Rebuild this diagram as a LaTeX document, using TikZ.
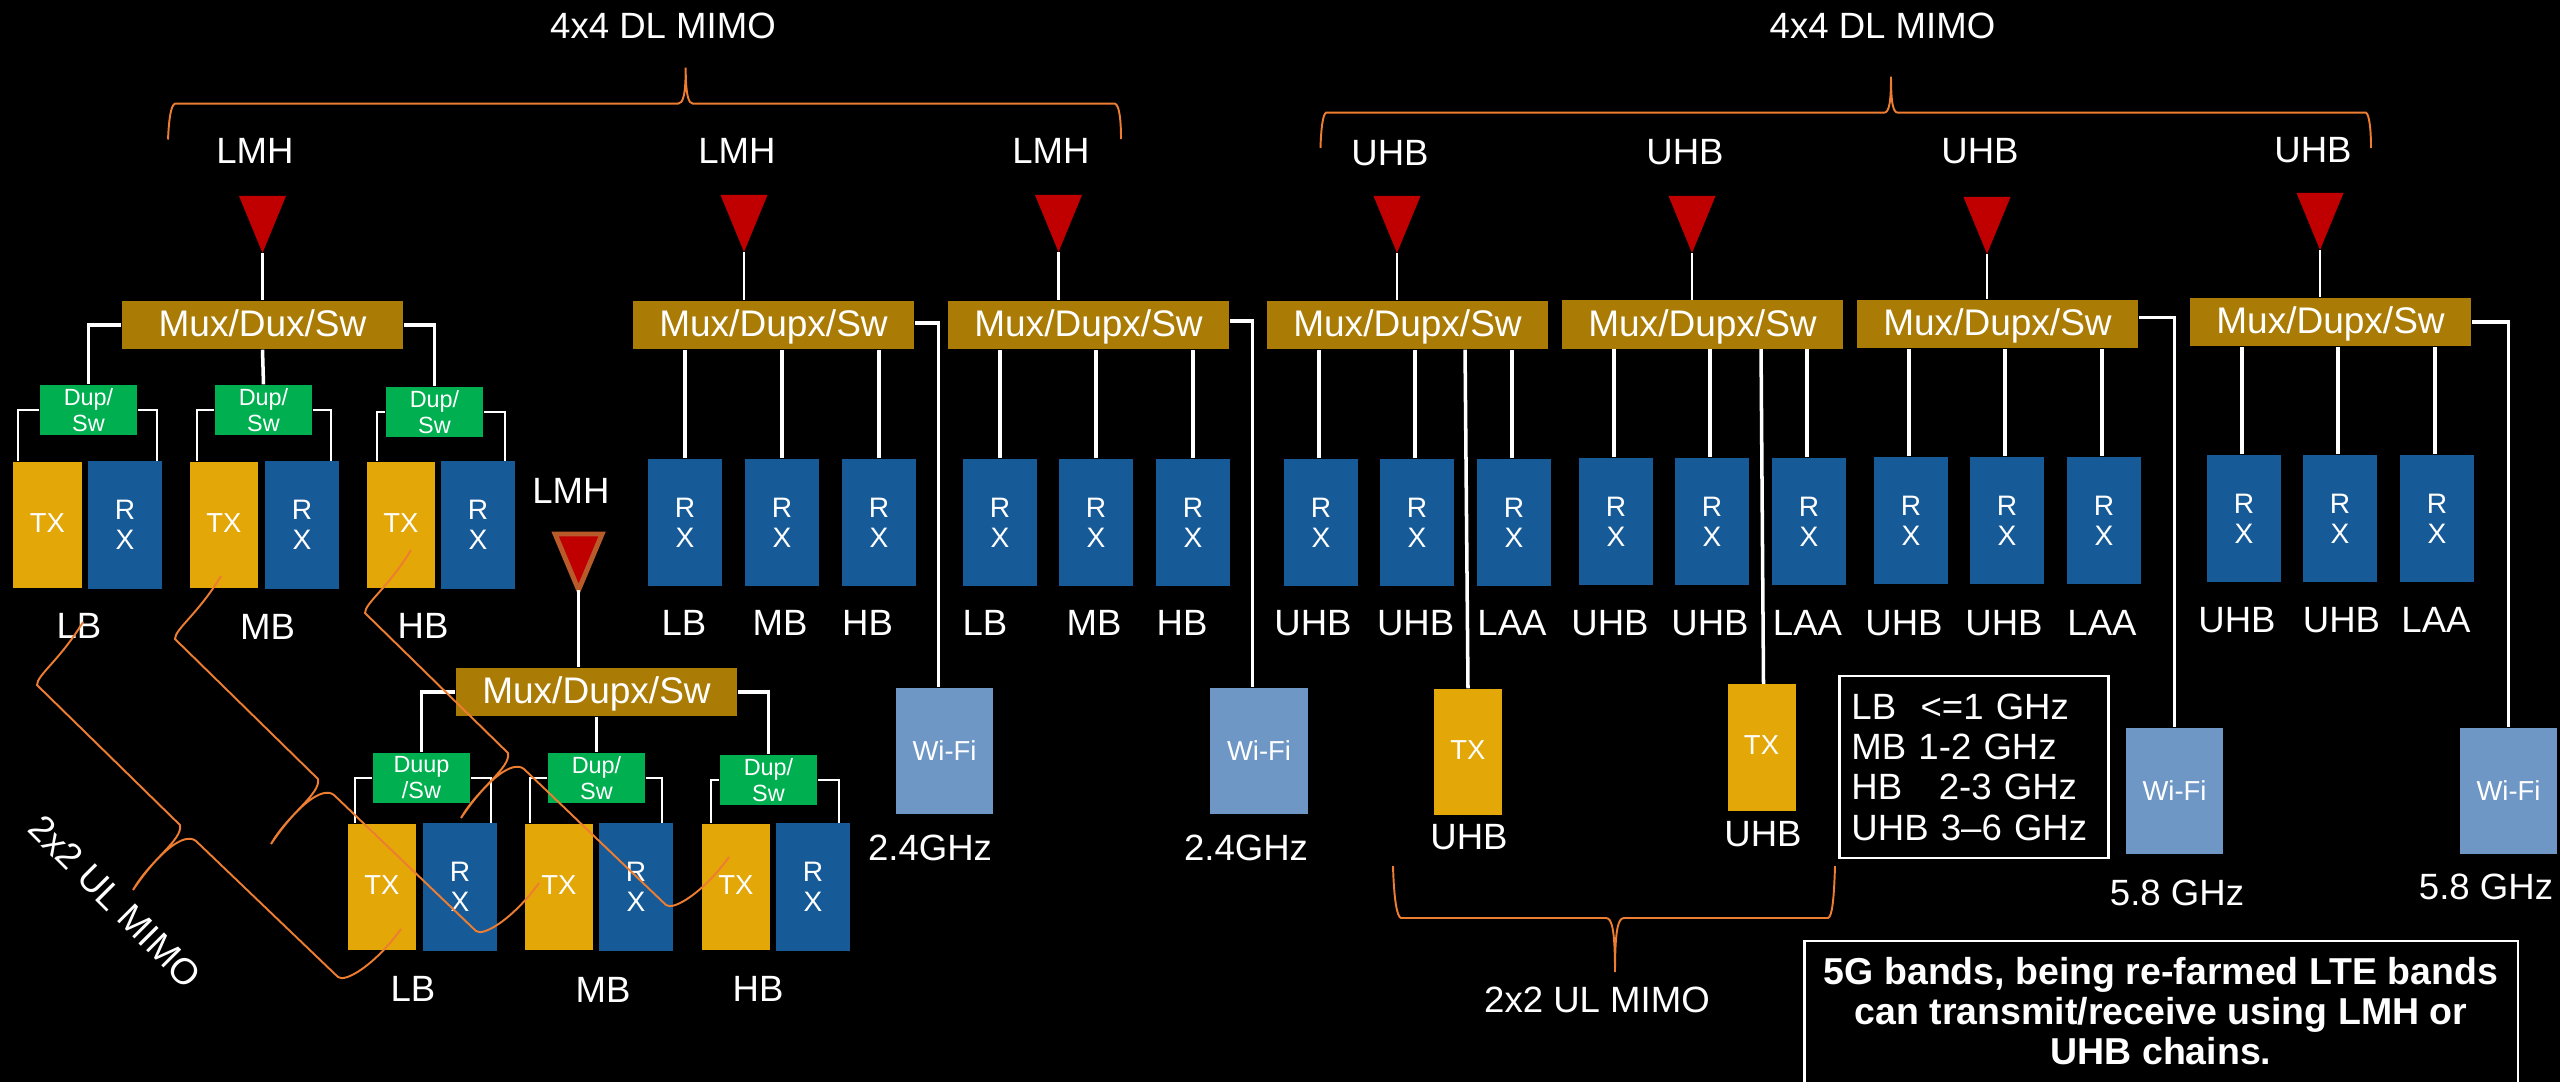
\documentclass[tikz,border=0pt]{standalone}
\usepackage{fontspec}
\setmainfont{Liberation Sans}
\usetikzlibrary{shapes.geometric}
\definecolor{muxcol}{HTML}{AA7C05}
\definecolor{txcol}{HTML}{E3A708}
\definecolor{rxcol}{HTML}{165A98}
\definecolor{dupcol}{HTML}{00B050}
\definecolor{wificol}{HTML}{6F97C5}
\definecolor{antcol}{HTML}{C00000}
\definecolor{bracecol}{HTML}{ED7D31}
\definecolor{rimcol}{HTML}{B85A2A}
\begin{document}
\begin{tikzpicture}[
  x=0.01cm, y=-0.01cm,
  muxbox/.style={rectangle, fill=muxcol, text=white, minimum width=2.81cm, minimum height=0.48cm, inner sep=0pt, text height=7.7pt, text depth=1.04pt, font=\fontsize{10.53}{12}\selectfont},
  dupbox/.style={rectangle, fill=dupcol, text=white, align=center, minimum width=0.97cm, minimum height=0.5cm, inner sep=0pt, font=\fontsize{6.66}{7.4}\selectfont},
  rxbox/.style={rectangle, fill=rxcol, text=white, align=center, minimum width=0.74cm, minimum height=1.27cm, inner sep=0pt, font=\fontsize{8}{8.54}\selectfont},
  txbox/.style={rectangle, fill=txcol, text=white, minimum width=0.68cm, minimum height=1.26cm, inner sep=0pt, font=\fontsize{7.8}{9}\selectfont},
  wifibox/.style={rectangle, fill=wificol, text=white, minimum width=0.97cm, minimum height=1.26cm, inner sep=0pt, font=\fontsize{7.8}{9}\selectfont},
  ant/.style={isosceles triangle, shape border rotate=-90, isosceles triangle stretches, fill=antcol, minimum width=0.47cm, minimum height=0.57cm, inner sep=0pt, outer sep=0pt, anchor=apex},
  lbl/.style={text=white, inner sep=0pt, font=\fontsize{10.4}{12}\selectfont},
  wire/.style={draw=white, line width=1pt},
  stem/.style={draw=white, line width=.75pt},
  tap/.style={draw=white, line width=.5pt},
  brace/.style={draw=bracecol, line width=.55pt}
]
\useasboundingbox (0,0) rectangle (2560,1081);
\fill[black] (-10,-10) rectangle (2570,1091);

% antennas and their band names
\foreach \n/\x/\y in {ant1/262.5/253,ant3/744/252,ant4/1058.5/252,ant5/1397/253,ant6/1692/253,ant7/1987/254,ant8/2320/250}
  \node[ant] (\n) at (\x,\y) {};
\node[ant, draw=rimcol, line width=1.4pt, minimum width=0.47cm, minimum height=0.56cm] (ant2) at (578.6,590) {};
\foreach \n/\x/\y in {lmh1/255/150.5,lmh2/571/491,lmh3/737/151,lmh4/1051/151}
  \node[lbl] (\n) at (\x,\y) {LMH};
\foreach \n/\x/\y in {uhb5/1390/152.7,uhb6/1685/151.7,uhb7/1980/151.4,uhb8/2313/149.6}
  \node[lbl] (\n) at (\x,\y) {UHB};

% mux rows
\node[muxbox] (mux1) at (262.5,325) {Mux/Dux/Sw};
\foreach \n/\x/\y in {mux2/596.5/692,mux3/773.5/325,mux4/1088.5/325,mux5/1407.5/325,mux6/1702.5/324.5,mux7/1997.5/324,mux8/2330.5/322}
  \node[muxbox] (\n) at (\x,\y) {Mux/Dupx/Sw};

% TX chains with duplexers
\node[dupbox] (dup11) at (88.5,410) {Dup/\\Sw};
\node[dupbox] (dup12) at (263.5,410) {Dup/\\Sw};
\node[dupbox] (dup13) at (434.5,412) {Dup/\\Sw};
\node[dupbox] (dup21) at (421.5,778) {Duup\\/Sw};
\node[dupbox] (dup22) at (596.5,778) {Dup/\\Sw};
\node[dupbox] (dup23) at (768.5,780) {Dup/\\Sw};
\foreach \n/\x/\y in {tx11/47.5/525,tx12/224/525,tx13/401/525,tx21/382/887,tx22/559/887,tx23/736/887,txu5/1468/752,txu6/1761.5/747.5}
  \node[txbox] (\n) at (\x,\y) {\raisebox{.45mm}{TX}};

% RX boxes
\foreach \n/\x/\y in {r11/125/525,r12/302/525,r13/478/525,r21/460/887,r22/636/887,r23/813/887,
  r31/685/522.5,r32/782/522.5,r33/879/522.5,r41/1000/522.5,r42/1096/522.5,r43/1193/522.5,
  r51/1321/522.5,r52/1417/522.5,r53/1514/522.5,r61/1616/521.5,r62/1712/521.5,r63/1809/521.5,
  r71/1911/520.5,r72/2007/520.5,r73/2104/520.5,r81/2244/518.5,r82/2340/518.5,r83/2437/518.5}
  \node[rxbox] (\n) at (\x,\y) {R\\X};

% Wi-Fi
\foreach \n/\x/\y in {wifi3/944.5/751,wifi4/1259/751,wifi7/2174.5/791,wifi8/2508.5/791}
  \node[wifibox] (\n) at (\x,\y) {Wi-Fi};
\foreach \n/\x/\y in {ghz3/930/848,ghz4/1246/848}
  \node[lbl] (\n) at (\x,\y) {2.4GHz};
\node[lbl] (ghz7) at (2177,892.7) {5.8 GHz};
\node[lbl] (ghz8) at (2486,886.7) {5.8 GHz};

% band names under the boxes
\foreach \n/\x/\y in {b11/79/626,b21/413/989,b31/684/623,b41/985/623}
  \node[lbl] (\n) at (\x,\y) {LB};
\foreach \n/\x/\y in {b12/267.5/627,b22/603/990,b32/780/623,b42/1094/623}
  \node[lbl] (\n) at (\x,\y) {MB};
\foreach \n/\x/\y in {b13/423/626,b23/758/989,b33/867.5/623,b43/1182/623}
  \node[lbl] (\n) at (\x,\y) {HB};
\foreach \n/\x/\y in {b51/1313/623,b52/1415.6/623,b61/1610/622.7,b62/1710/622.7,b71/1904/623,b72/2004/623,b81/2237/620,b82/2341.5/620,tu5/1469/837,tu6/1763/834}
  \node[lbl] (\n) at (\x,\y) {UHB};
\foreach \n/\x/\y in {b53/1512/623,b63/1807.5/622.7,b73/2102/623,b83/2436/620}
  \node[lbl] (\n) at (\x,\y) {LAA};

% side notes
\node[rectangle, draw=white, line width=.7pt, text=white, align=left, text width=2.45cm, minimum width=2.685cm, minimum height=1.82cm, inner sep=0pt, font=\fontsize{10.4}{11.47}\selectfont] (legend) at (1974,767)
  {LB\ \ <=1 GHz\\MB 1-2 GHz\\HB\ \ \ 2-3 GHz\\UHB 3--6 GHz};
\node[rectangle, draw=white, line width=.7pt, text=white, align=center, minimum width=7.13cm, minimum height=1.49cm, inner sep=0pt, font=\fontsize{10.66}{11.4}\selectfont\bfseries] (note) at (2161,1015.5)
  {5G bands, being re-farmed LTE bands\\can transmit/receive using LMH or\\UHB chains.\rule[-2.7pt]{0pt}{2.7pt}};
\node[lbl] (dl1) at (663,26) {4x4 DL MIMO};
\node[lbl] (dl2) at (1882.5,26) {4x4 DL MIMO};
\node[lbl] (ul1) at (1597,1000) {2x2 UL MIMO};
\node[lbl, rotate=-45] (ul2) at (115,901.5) {2x2 UL MIMO};

% connectors
\foreach \a/\m in {ant1/mux1,ant2/mux2,ant3/mux3,ant4/mux4,ant5/mux5,ant6/mux6,ant7/mux7,ant8/mux8}
  \draw[stem] (\a.apex) -- (\a.apex |- \m.north);
\foreach \m/\d in {mux1/1,mux2/2} {
  \draw[wire] (\m.west) -| (dup\d1.north);
  \draw[wire] (\m.south) -- (dup\d2.north);
  \draw[wire] (\m.east) -| (dup\d3.north);
}
\foreach \d/\t/\r/\a/\b in {dup11/tx11/r11/.5/.6,dup12/tx12/r12/.75/.9,dup13/tx13/r13/1.1/1.1,dup21/tx21/r21/.8/.7,dup22/tx22/r22/.6/1.2,dup23/tx23/r23/1/1.2} {
  \draw[tap] (\d.west) -| ([xshift=\a mm]\t.north west);
  \draw[tap] (\d.east) -| ([xshift=-\b mm]\r.north east);
}
\foreach \r in {r31,r32,r33}
  \draw[wire] (\r.north) -- (\r.north |- mux3.south);
\foreach \r in {r41,r42,r43}
  \draw[wire] (\r.north) -- (\r.north |- mux4.south);
\foreach \m in {5,6,7,8}
  \foreach \k in {1,2,3}
    \draw[wire] ([xshift=-.2mm]r\m\k.north) -- ([xshift=-.2mm]r\m\k.north |- mux\m.south);
\draw[wire] ([xshift=5.75mm]mux5.south) -- (txu5.north);
\draw[wire] ([xshift=5.85mm]mux6.south) -- ([xshift=.2mm]txu6.north);
\foreach \m/\w/\dy/\dx in {mux3/wifi3/.2/-.6,mux4/wifi4/.4/-.65,mux7/wifi7/.65/0,mux8/wifi8/0/0}
  \draw[wire] ([yshift=\dy mm]\m.east) -| ([xshift=\dx mm]\w.north);

% braces
\draw[brace] (168,139.5) .. controls (169,118) and (171,105) .. (175,103.7) -- (678,103.7) .. controls (683,103.7) and (685.7,95) .. (685.7,67.7) .. controls (685.7,95) and (688.5,103.7) .. (693,103.7) -- (1115,103.7) .. controls (1119,105) and (1121,118) .. (1121,139);
\draw[brace] (1320.5,148) .. controls (1321,128) and (1323,114) .. (1326,112.7) -- (1884,112.7) .. controls (1889,112.7) and (1891,103) .. (1891,76.7) .. controls (1891,103) and (1893,112.7) .. (1898,112.7) -- (2366,112.7) .. controls (2369,114) and (2371,128) .. (2371,148);
\draw[brace] (1393,866) .. controls (1394,900) and (1397,917) .. (1401,918) -- (1606,918) .. controls (1612,918) and (1615,930) .. (1615,972) .. controls (1615,930) and (1618,918) .. (1624,918) -- (1828,918) .. controls (1832,917) and (1834,900) .. (1835,866);
\foreach \dx/\dy in {0/0,138/-46,328/-72}
  \draw[brace, shift={(\dx,\dy)}] (83,622) .. controls (60,660) and (37,675) .. (37,685) -- (180,825) .. controls (183,840) and (150,860) .. (133,890) .. controls (160,850) and (185,832) .. (196,841) -- (338,977) .. controls (345,983) and (375,965) .. (401,929);
\end{tikzpicture}
\end{document}
